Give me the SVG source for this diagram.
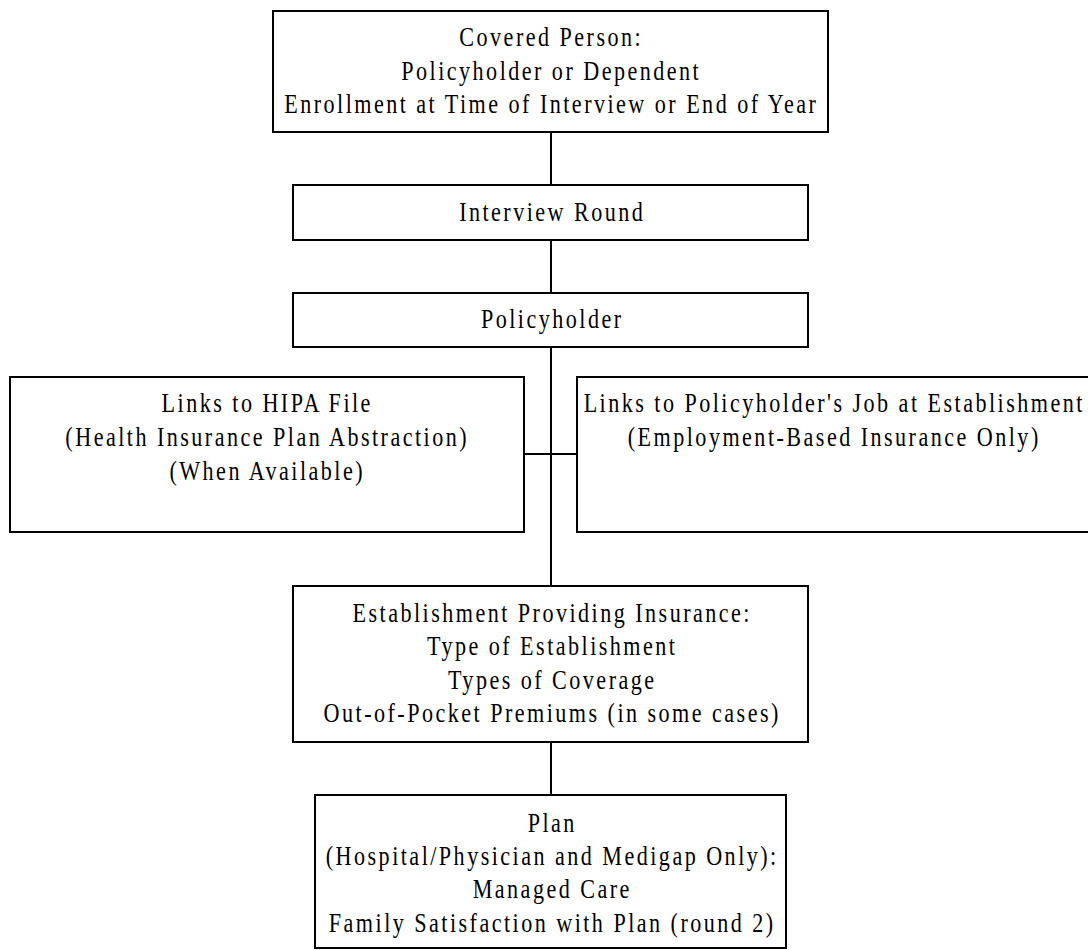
<svg xmlns="http://www.w3.org/2000/svg" width="1088" height="950" viewBox="0 0 1088 950">
<style>
.box{fill:#fff;stroke:#000;stroke-width:2}
.t{font-family:"Liberation Serif","Times New Roman",serif;font-size:27px;letter-spacing:3px;fill:#000;text-anchor:middle}
.c{stroke:#000;stroke-width:2;fill:none}
</style>
<rect width="1088" height="950" fill="#fff"/>
<g id="connectors">
<line class="c" x1="551" y1="132" x2="551" y2="185"/>
<line class="c" x1="551" y1="240" x2="551" y2="293"/>
<line class="c" x1="551" y1="347" x2="551" y2="586"/>
<line class="c" x1="524" y1="454" x2="577" y2="454"/>
<line class="c" x1="551" y1="742" x2="551" y2="795"/>
</g>
<g id="covered">
<rect class="box" x="273" y="11" width="555" height="121"/>
<g transform="matrix(0.82 0 0 1 550 0)">
<text class="t" x="1.5" y="46">Covered Person:</text>
<text class="t" x="1.5" y="80">Policyholder or Dependent</text>
<text class="t" x="1.5" y="113">Enrollment at Time of Interview or End of Year</text>
</g>
</g>
<g id="interview">
<rect class="box" x="293" y="185" width="515" height="55"/>
<g transform="matrix(0.82 0 0 1 551 0)">
<text class="t" x="1.5" y="221">Interview Round</text>
</g>
</g>
<g id="policyholder">
<rect class="box" x="293" y="293" width="515" height="54"/>
<g transform="matrix(0.82 0 0 1 551 0)">
<text class="t" x="1.5" y="328">Policyholder</text>
</g>
</g>
<g id="hipa">
<rect class="box" x="10" y="377" width="514" height="155"/>
<g transform="matrix(0.82 0 0 1 266 0)">
<text class="t" x="1.5" y="412">Links to HIPA File</text>
<text class="t" x="1.5" y="446">(Health Insurance Plan Abstraction)</text>
<text class="t" x="1.5" y="480">(When Available)</text>
</g>
</g>
<g id="job">
<rect class="box" x="577" y="377" width="513" height="155"/>
<g transform="matrix(0.82 0 0 1 833 0)">
<text class="t" x="1.5" y="412">Links to Policyholder's Job at Establishment</text>
<text class="t" x="1.5" y="446">(Employment-Based Insurance Only)</text>
</g>
</g>
<g id="establishment">
<rect class="box" x="293" y="586" width="515" height="156"/>
<g transform="matrix(0.82 0 0 1 551 0)">
<text class="t" x="1.5" y="622">Establishment Providing Insurance:</text>
<text class="t" x="1.5" y="655">Type of Establishment</text>
<text class="t" x="1.5" y="689">Types of Coverage</text>
<text class="t" x="1.5" y="722">Out-of-Pocket Premiums (in some cases)</text>
</g>
</g>
<g id="plan">
<rect class="box" x="315" y="795" width="471" height="153"/>
<g transform="matrix(0.82 0 0 1 551 0)">
<text class="t" x="1.5" y="832">Plan</text>
<text class="t" x="1.5" y="865">(Hospital/Physician and Medigap Only):</text>
<text class="t" x="1.5" y="898">Managed Care</text>
<text class="t" x="1.5" y="932">Family Satisfaction with Plan (round 2)</text>
</g>
</g>
</svg>
